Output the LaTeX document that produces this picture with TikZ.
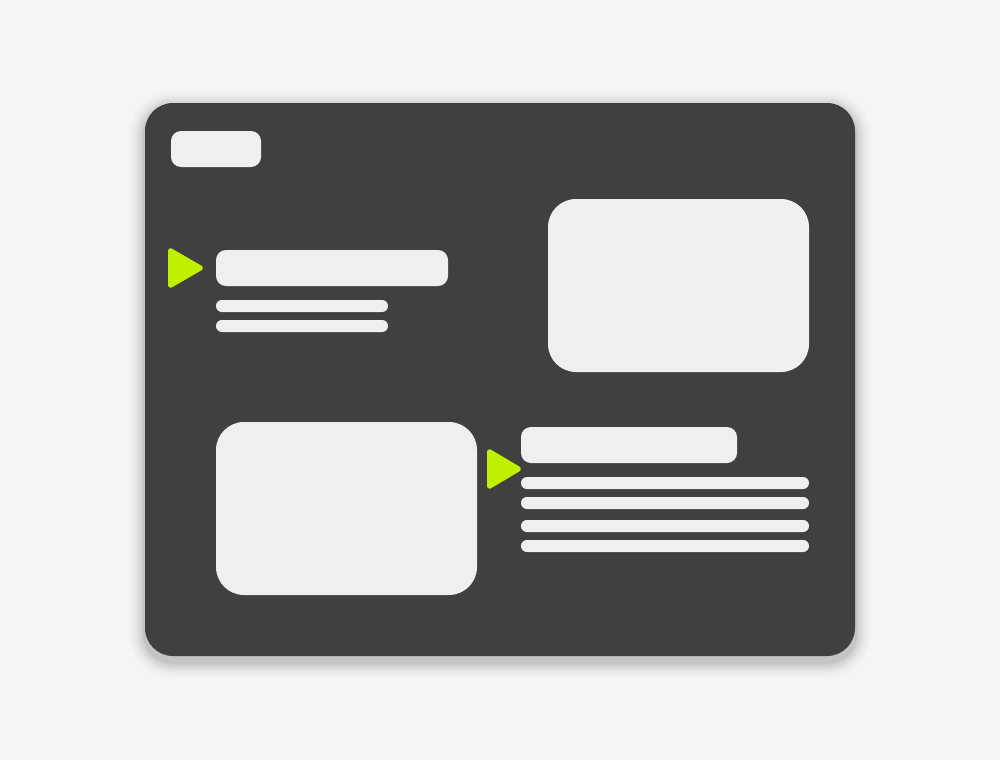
\documentclass[tikz,border=0pt]{standalone}
\usetikzlibrary{positioning}
\definecolor{bg}{HTML}{F5F5F5}
\definecolor{panel}{HTML}{404040}
\definecolor{block}{HTML}{EFEFEF}
\definecolor{lime}{RGB}{191,240,0}
\tikzset{
  blk/.style={fill=block,draw=none,inner sep=0pt,outer sep=0pt,anchor=north west},
  pill/.style={blk,rounded corners=10pt},
  bar/.style={blk,rounded corners=5.9pt,minimum height=12pt},
  card/.style={blk,rounded corners=28pt},
  tri/.style={fill=lime,draw=lime,line width=3pt,line join=round,rounded corners=1.5pt}
}
\begin{document}
\begin{tikzpicture}[x=1pt,y=-1pt]
\useasboundingbox (0,0) rectangle (1000,760);
\fill[bg] (0,0) rectangle (1000,760);
% shadow
\foreach \s/\o in {16/0.01,14/0.012,12/0.016,10/0.02,8/0.026,6/0.032,4/0.04,2/0.05}{
  \fill[black,opacity=\o,rounded corners={28+\s}] (145-\s,107-\s) rectangle (855+\s,662+\s);
}
\node[blk,fill=panel,rounded corners=28pt,minimum width=710pt,minimum height=553pt] (panel) at (145,103) {};
% top pill
\node[pill,minimum width=90pt,minimum height=36pt] (logo) at (171,131) {};
% section 1
\draw[tri] (169.5,249) -- (202.5,268) -- (169.5,287) -- cycle;
\coordinate (tri1) at (185,268);
\node[pill,minimum width=232pt,minimum height=36pt] (title1) at (216,250) {};
\node[bar,minimum width=172pt] (l11) at (216,300) {};
\node[bar,minimum width=172pt] (l12) at (216,320) {};
\node[card,minimum width=261pt,minimum height=173pt] (img1) at (548,199) {};
% section 2
\node[card,minimum width=261pt,minimum height=173pt] (img2) at (216,422) {};
\draw[tri] (488.5,450) -- (520.5,469) -- (488.5,488) -- cycle;
\coordinate (tri2) at (503,469);
\node[pill,minimum width=216pt,minimum height=36pt] (title2) at (521,427) {};
\node[bar,minimum width=288pt] (l21) at (521,477) {};
\node[bar,minimum width=288pt] (l22) at (521,497) {};
\node[bar,minimum width=288pt] (l23) at (521,520) {};
\node[bar,minimum width=288pt] (l24) at (521,540) {};
\end{tikzpicture}
\end{document}
